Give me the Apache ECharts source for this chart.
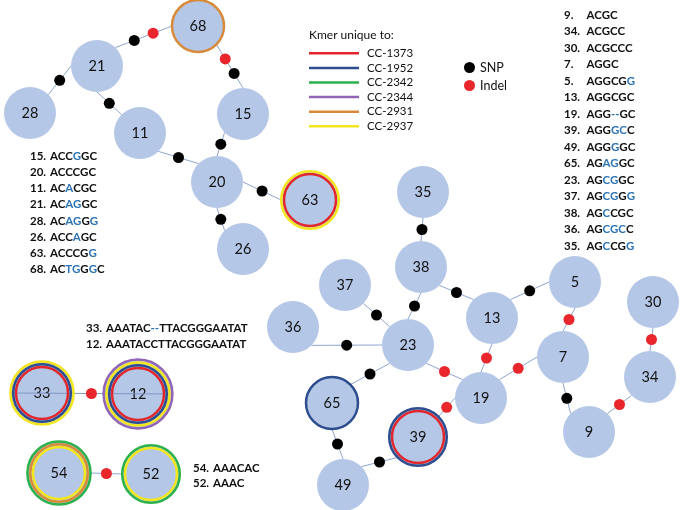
<!DOCTYPE html>
<html><head><meta charset="utf-8">
<script src="https://cdn.jsdelivr.net/npm/echarts@6/dist/echarts.min.js"></script>
<style>html,body{margin:0;padding:0;background:#fff}#c{width:680px;height:510px}</style>
</head><body><div id="c"></div>
<script>
// ---- network data ----
const nodeIds = ['68','21','28','11','15','20','63','26','35','38','37','36','23','13','5','7','19','30','34','9','65','39','49','33','12','54','52'];
const nodeX   = [198, 97, 30,140,243,217,310,243,423,421,345,293,408,492,575,563,481,653,650,589,332,418,343, 42,138, 59,151];
const nodeY   = [ 26, 66,113,133,114,182,200,249,192,267,285,327,345,318,282,357,398,302,377,432,403,437,485,393,394,473,474];

const kmerGroups = ['CC-1373','CC-1952','CC-2342','CC-2344','CC-2931','CC-2937'];
// kmer groups per node, outermost ring first
const nodeKmers = {
  '68':['CC-2931'],
  '63':['CC-2937','CC-1373'],
  '65':['CC-1952'],
  '39':['CC-1952','CC-1373'],
  '33':['CC-2937','CC-1952','CC-1373'],
  '12':['CC-2344','CC-2937','CC-1952','CC-1373'],
  '54':['CC-2342','CC-2931','CC-2937'],
  '52':['CC-2342','CC-2937']
};

const edgeFrom = ['21','68','21','21','11','15','20','20','35','38','37','36','38','13','5','13','19','7','9','30','23','23','65','49','39','33','54'];
const edgeTo   = ['68','15','28','11','20','20','63','26','38','23','23','23','13','5','7','19','7','9','34','34','19','65','49','39','19','12','52'];
const edgeAnchors = [['tr','l'],['br','t'],['l','tr'],['b','tl'],['br','tl'],['bl','t'],['r','l'],['b','tl'],['b','t'],['b','t'],['br','tl'],['br','l'],['br','tl'],['tr','l'],['b','t'],['b','t'],['tr','l'],['b','tl'],['tr','bl'],['b','t'],['br','tl'],['bl','tr'],['b','t'],['tr','bl'],['tr','l'],['l','r'],['r','l']];
const edgeOnTop = [false,false,false,false,false,false,false,false,false,false,false,false,false,false,false,false,false,false,false,false,false,false,false,false,false,true,false];
const edgeMutations = [['SNP','Indel'],['Indel','SNP'],['SNP'],['SNP'],['SNP'],['SNP'],['SNP'],['SNP'],['SNP'],['SNP'],['SNP'],['SNP'],['SNP'],['SNP'],['Indel'],['Indel'],['Indel'],['SNP'],['Indel'],['Indel'],['Indel'],['SNP'],['SNP'],['SNP'],['Indel'],['Indel'],['Indel']];

// ---- sequence annotations ([..] = highlighted) ----
const listRightNums = ['9','34','30','7','5','13','19','39','49','65','23','37','38','36','35'];
const listRightSeqs = ['ACGC','ACGCC','ACGCCC','AGGC','AGGCG[G]','AGGCGC','AGG[--]GC','AGG[GC]C','AGG[G]GC','AG[AG]GC','AG[CG]GC','AG[CG]G[G]','AG[C]CGC','AG[CGC]C','AG[C]CG[G]'];
const listLeftNums = ['15','20','11','21','28','26','63','68'];
const listLeftSeqs = ['ACC[G]GC','ACCCGC','AC[A]CGC','AC[AG]GC','AC[AG]G[G]','ACC[A]GC','ACCCG[G]','AC[TG]G[G]C'];
const listMidNums = ['33','12'];
const listMidSeqs = ['AAATAC[--]TTACGGGAATAT','AAATACCTTACGGGAATAT'];
const listLowNums = ['54','52'];
const listLowSeqs = ['AAACAC','AAAC'];

// ---- styles ----
const FONT = 'Lato';
const kmerColors = {'CC-1373':'#e2262c','CC-1952':'#2d4d8e','CC-2342':'#2bb24c','CC-2344':'#9264b8','CC-2931':'#d88a38','CC-2937':'#f3e61f'};
const mutColors = {SNP:'#000000', Indel:'#e8262c'};
const BASE_R = 26, RING_STEP = 2.8;

const idx = {}; nodeIds.forEach((id,i)=>idx[id]=i);
function outerR(id){ const n=(nodeKmers[id]||[]).length; return n>1 ? BASE_R+RING_STEP*(n-1) : BASE_R; }
const dirs = {t:[0,-1],b:[0,1],l:[-1,0],r:[1,0],tl:[-Math.SQRT1_2,-Math.SQRT1_2],tr:[Math.SQRT1_2,-Math.SQRT1_2],bl:[-Math.SQRT1_2,Math.SQRT1_2],br:[Math.SQRT1_2,Math.SQRT1_2]};
function anchor(id,a){ const i=idx[id], r=outerR(id), d=dirs[a]; return [nodeX[i]+r*d[0], nodeY[i]+r*d[1]]; }

const edgeData = [], edgeTopData = [], mutData = {SNP:[], Indel:[]};
edgeFrom.forEach((f,k)=>{
  const p=anchor(f,edgeAnchors[k][0]), q=anchor(edgeTo[k],edgeAnchors[k][1]);
  (edgeOnTop[k] ? edgeTopData : edgeData).push({coords:[p,q]});
  const m=edgeMutations[k];
  m.forEach((type,j)=>{ const t=(j+1)/(m.length+1); mutData[type].push([p[0]+(q[0]-p[0])*t, p[1]+(q[1]-p[1])*t]); });
});

const ringSeries = kmerGroups.map(g=>{
  const data=[];
  nodeIds.forEach((id,i)=>{ const ks=nodeKmers[id]; if(!ks) return; const j=ks.indexOf(g); if(j<0) return;
    data.push({value:[nodeX[i],nodeY[i]], symbolSize:2*(outerR(id)-RING_STEP*j)}); });
  return {type:'scatter', name:g, data, z:4, silent:true, symbol:'circle',
    itemStyle:{color:'rgba(0,0,0,0)', borderColor:kmerColors[g], borderWidth:2.5, opacity:1},
    emphasis:{disabled:true}};
});

function richLines(nums, seqs){
  return nums.map((n,i)=>'{n|'+n+'.}{s|'+seqs[i].replace(/\[([^\]]+)\]/g,'}{b|$1}{s|')+'}').join('\n').replace(/\{s\|\}/g,'');
}
function richStyle(lh, nw){
  const base={fontFamily:FONT, fontSize:11.5, lineHeight:lh, color:'#111'};
  return {n:Object.assign({width:nw},base), s:Object.assign({},base), b:Object.assign({},base,{color:'#2e75b6'})};
}
function listTitle(nums, seqs, left, top, lh, nw){
  return {text:richLines(nums,seqs), left, top, padding:0, textStyle:{rich:richStyle(lh,nw), lineHeight:lh}};
}

const chart = echarts.init(document.getElementById('c'), null, {renderer:'canvas'});
chart.setOption({
  animation:false,
  backgroundColor:'#fff',
  grid:{left:0,right:0,top:0,bottom:0},
  xAxis:{type:'value', min:0, max:680, show:false},
  yAxis:{type:'value', min:0, max:510, inverse:true, show:false},
  title:[
    {text:'Kmer unique to:', left:309, top:29.5, padding:0, textStyle:{fontFamily:FONT, fontSize:12, fontWeight:'normal', color:'#111'}},
    listTitle(listRightNums, listRightSeqs, 564, 6.75, 16.5, 22.5),
    listTitle(listLeftNums, listLeftSeqs, 30, 148, 16.2, 20),
    listTitle(listMidNums, listMidSeqs, 86, 320, 16.3, 20),
    listTitle(listLowNums, listLowSeqs, 193, 460.5, 15.5, 20)
  ],
  legend:[
    {data:kmerGroups.map(g=>({name:g, icon:'rect', itemStyle:{color:kmerColors[g], borderWidth:0}})),
     orient:'vertical', left:309, top:46, padding:0, itemWidth:50, itemHeight:2.5, itemGap:0, selectedMode:false,
     textStyle:{fontFamily:FONT, fontSize:11.5, color:'#111', lineHeight:14.6, padding:[0,0,0,3]}},
    {data:[{name:'SNP', icon:'circle'},{name:'Indel', icon:'circle'}],
     orient:'vertical', left:464, top:61, padding:0, itemWidth:11, itemHeight:11, itemGap:5, selectedMode:false,
     textStyle:{fontFamily:FONT, fontSize:12.5, color:'#111', lineHeight:11}}
  ],
  series:[
    {type:'lines', coordinateSystem:'cartesian2d', data:edgeData, z:1, silent:true,
     lineStyle:{color:'#8fa5cf', width:1, opacity:1}},
    {type:'scatter', name:'nodes', z:2, silent:true, symbol:'circle',
     data:nodeIds.map((id,i)=>({name:id, value:[nodeX[i],nodeY[i]], symbolSize:2*outerR(id)})),
     itemStyle:{color:'#b4c7e7', opacity:1},
     label:{show:true, position:'inside', formatter:'{b}', fontFamily:FONT, fontSize:14.5, color:'#111'},
     emphasis:{disabled:true}},
    {type:'lines', coordinateSystem:'cartesian2d', data:edgeTopData, z:3, silent:true,
     lineStyle:{color:'#7f96c4', width:1, opacity:1}},
    ...ringSeries,
    {type:'scatter', name:'SNP', data:mutData.SNP, z:5, symbolSize:11, silent:true, itemStyle:{color:mutColors.SNP, opacity:1}, emphasis:{disabled:true}},
    {type:'scatter', name:'Indel', data:mutData.Indel, z:5, symbolSize:11, silent:true, itemStyle:{color:mutColors.Indel, opacity:1}, emphasis:{disabled:true}}
  ]
});
</script></body></html>
